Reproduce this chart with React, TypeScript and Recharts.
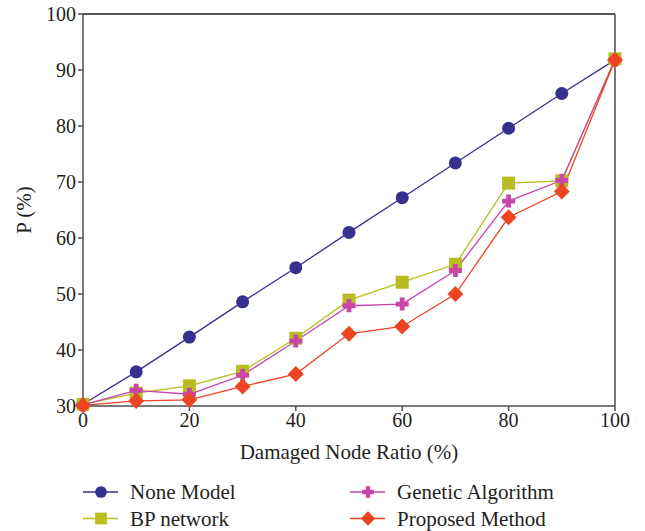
import { LineChart, Line, XAxis, YAxis, ReferenceLine, Legend } from 'recharts'

// Damaged node ratio (%) on the x axis
const ratio = [0, 10, 20, 30, 40, 50, 60, 70, 80, 90, 100]

// P (%) for each method
const noneModel = [30.3, 36.1, 42.3, 48.6, 54.7, 61.0, 67.2, 73.4, 79.6, 85.8, 91.8]
const bpNetwork = [30.3, 32.3, 33.6, 36.2, 42.1, 48.9, 52.1, 55.3, 69.8, 70.2, 92.0]
const genetic   = [30.2, 32.8, 32.1, 35.5, 41.6, 47.9, 48.2, 54.2, 66.6, 70.3, 91.8]
const proposed  = [30.1, 30.9, 31.1, 33.5, 35.7, 42.9, 44.2, 50.0, 63.7, 68.3, 91.8]

const xTicks = [0, 20, 40, 60, 80, 100]
const yTicks = [30, 40, 50, 60, 70, 80, 90, 100]

const data = ratio.map((r, i) => ({
  ratio: r,
  none: noneModel[i],
  bp: bpNetwork[i],
  ga: genetic[i],
  pm: proposed[i],
}))

const C_NONE = '#36308f'
const C_BP = '#b7bd1f'
const C_GA = '#c946a9'
const C_PM = '#ee4423'

const FONT = '"Liberation Serif", "Times New Roman", serif'

type Mark = 'circle' | 'square' | 'plus' | 'diamond'

function Marker({ kind, cx, cy, color, s = 1 }: { kind: Mark; cx: number; cy: number; color: string; s?: number }) {
  if (cx == null || cy == null) return null
  if (kind === 'circle') return <circle cx={cx} cy={cy} r={6.5 * s} fill={color} />
  if (kind === 'square') return <rect x={cx - 6.5 * s} y={cy - 6.5 * s} width={13 * s} height={13 * s} fill={color} />
  if (kind === 'diamond') {
    const r = 8 * s
    return <polygon points={`${cx},${cy - r} ${cx + r},${cy} ${cx},${cy + r} ${cx - r},${cy}`} fill={color} />
  }
  const a = 6.5 * s, w = 2.4 * s
  const d = `M${cx - w},${cy - a} H${cx + w} V${cy - w} H${cx + a} V${cy + w} H${cx + w} V${cy + a} H${cx - w} V${cy + w} H${cx - a} V${cy - w} H${cx - w} Z`
  return <path d={d} fill={color} />
}

const dotFor = (kind: Mark, color: string) => (p: any) =>
  <Marker key={`${kind}-${p.index}`} kind={kind} cx={p.cx} cy={p.cy} color={color} />

const legendItems: { name: string; kind: Mark; color: string; col: number; row: number }[] = [
  { name: 'None Model', kind: 'circle', color: C_NONE, col: 0, row: 0 },
  { name: 'BP network', kind: 'square', color: C_BP, col: 0, row: 1 },
  { name: 'Genetic Algorithm', kind: 'plus', color: C_GA, col: 1, row: 0 },
  { name: 'Proposed Method', kind: 'diamond', color: C_PM, col: 1, row: 1 },
]

function LegendBox() {
  return (
    <svg width={645} height={56} style={{ display: 'block' }}>
      {legendItems.map(it => {
        const x0 = it.col === 0 ? 83 : 350
        const y = 17 + it.row * 26.5
        return (
          <g key={it.name}>
            <line x1={x0} x2={x0 + 35} y1={y} y2={y} stroke={it.color} strokeWidth={1.5} />
            <Marker kind={it.kind} cx={x0 + 18} cy={y} color={it.color} s={0.9} />
            <text x={x0 + 47} y={y} dy="0.35em" fontFamily={FONT} fontSize={21} fill="#231f20">{it.name}</text>
          </g>
        )
      })}
    </svg>
  )
}

export default function App() {
  const tickStyle = { fontFamily: FONT, fontSize: 20, fill: '#231f20' }
  return (
    <div style={{ position: 'absolute', left: 0, top: 0, width: 645, height: 531, background: '#fff' }}>
      <LineChart width={645} height={531} data={data} margin={{ top: 14, right: 30, left: 0, bottom: 9 }}>
        <XAxis
          dataKey="ratio"
          type="number"
          domain={[0, 100]}
          ticks={xTicks}
          tickSize={5}
          tick={tickStyle}
          axisLine={{ stroke: '#4d4d4f', strokeWidth: 1.5 }}
          tickLine={{ stroke: '#4d4d4f', strokeWidth: 1.5 }}
          height={60}
          label={{ value: 'Damaged Node Ratio (%)', position: 'insideBottom', offset: 7, style: { fontFamily: FONT, fontSize: 21, fill: '#231f20' } }}
        />
        <YAxis
          type="number"
          domain={[30, 100]}
          ticks={yTicks}
          tickSize={5}
          tick={tickStyle}
          axisLine={{ stroke: '#4d4d4f', strokeWidth: 1.5 }}
          tickLine={{ stroke: '#4d4d4f', strokeWidth: 1.5 }}
          width={83}
          label={{ value: 'P (%)', angle: -90, position: 'insideLeft', offset: 24, style: { fontFamily: FONT, fontSize: 21, fill: '#231f20', textAnchor: 'middle' } }}
        />
        {/* frame on top and right */}
        <ReferenceLine y={100} stroke="#231f20" strokeWidth={1.5} />
        <ReferenceLine x={100} stroke="#4d4d4f" strokeWidth={1.5} />
        <Line dataKey="none" stroke={C_NONE} strokeWidth={1.3} dot={dotFor('circle', C_NONE)} isAnimationActive={false} />
        <Line dataKey="bp" stroke={C_BP} strokeWidth={1.3} dot={dotFor('square', C_BP)} isAnimationActive={false} />
        <Line dataKey="ga" stroke={C_GA} strokeWidth={1.3} dot={dotFor('plus', C_GA)} isAnimationActive={false} />
        <Line dataKey="pm" stroke={C_PM} strokeWidth={1.3} dot={dotFor('diamond', C_PM)} isAnimationActive={false} />
        <Legend verticalAlign="bottom" content={() => <LegendBox />} wrapperStyle={{ left: 0, top: 475, width: 645 }} />
      </LineChart>
    </div>
  )
}
